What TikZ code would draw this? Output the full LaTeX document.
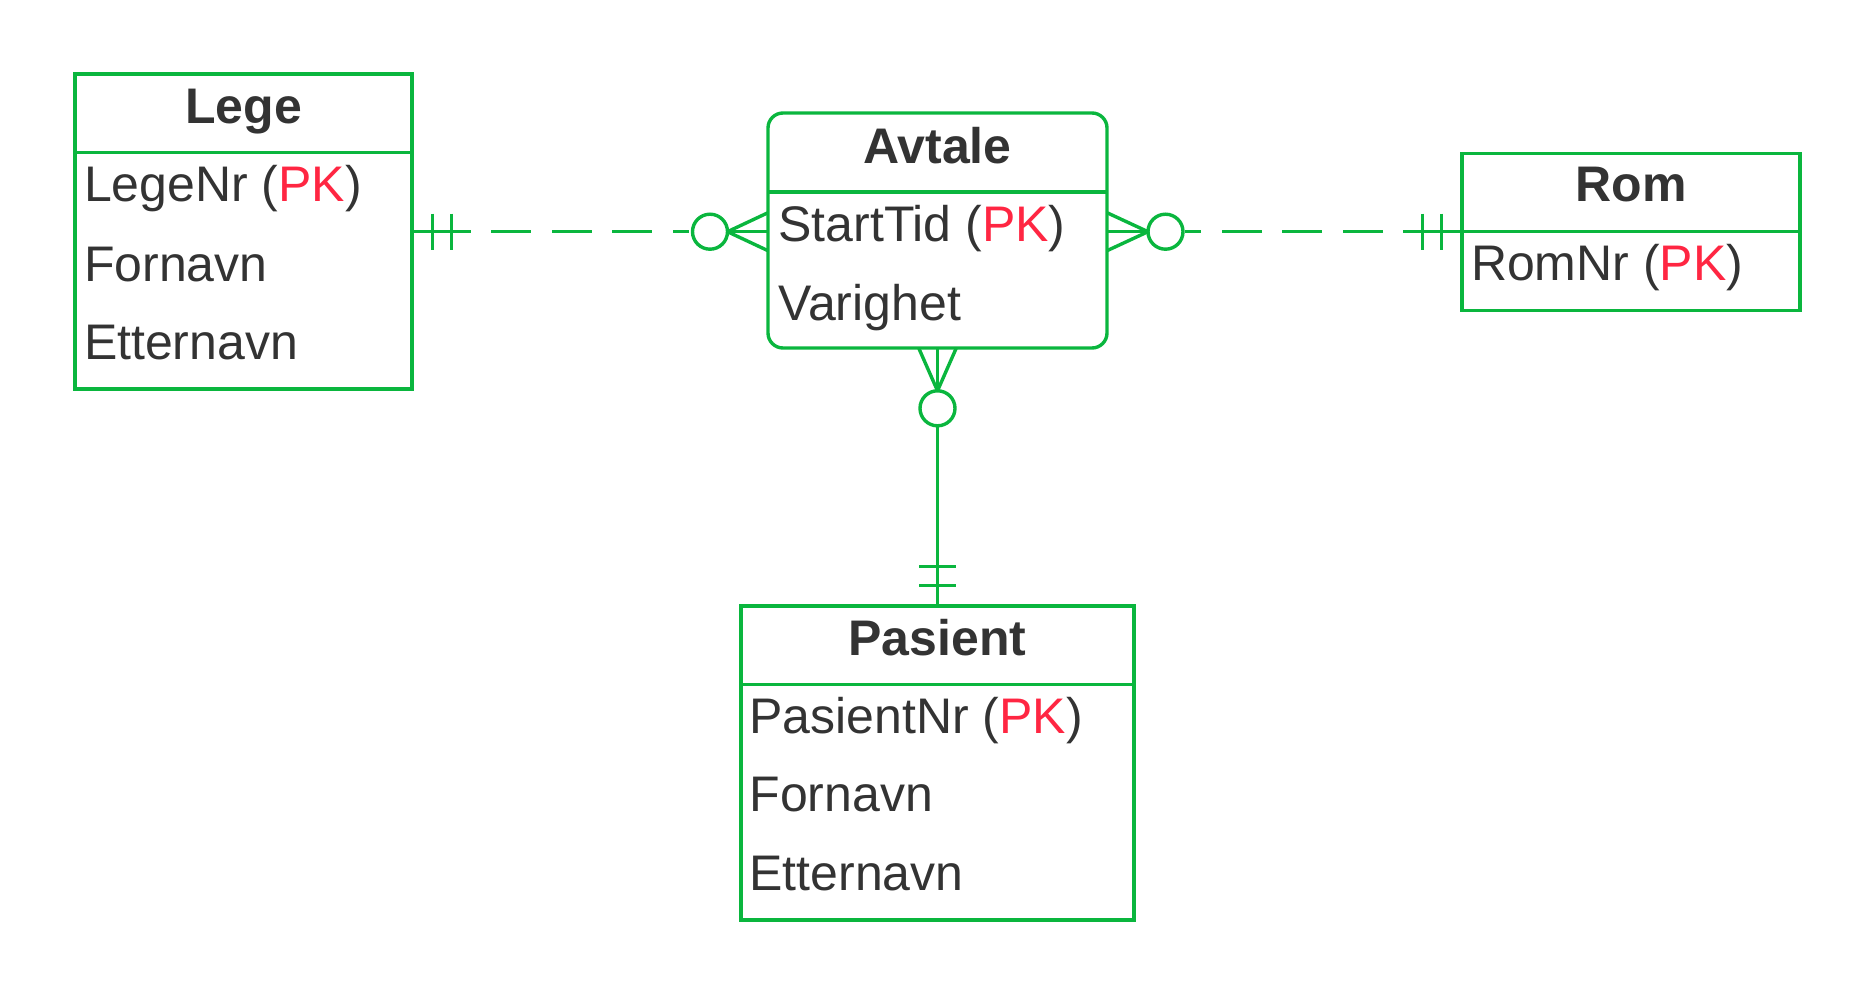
\documentclass[tikz,border=0pt]{standalone}
\usepackage{fontspec}
\setmainfont{Liberation Sans}
\usetikzlibrary{calc}
\definecolor{erg}{RGB}{10,182,62}
\definecolor{txt}{RGB}{51,51,51}
\definecolor{pkred}{RGB}{255,38,66}
\newcommand{\pkmark}{(\textcolor{pkred}{PK})}
\begin{document}
\begin{tikzpicture}[x=1pt,y=-1pt,
  every node/.style={inner sep=0pt, outer sep=0pt, text=txt, font=\fontsize{50}{59}\selectfont},
  entity/.style={draw=erg, line width=3.4pt, rectangle},
  hdr/.style={anchor=base, font=\fontsize{50}{59}\selectfont\bfseries},
  attr/.style={anchor=base west},
  sepline/.style={draw=erg, line width=3.4pt},
  rel/.style={draw=erg, line width=3.4pt},
  reldash/.style={rel, dash pattern=on 59pt off 20pt on 40pt off 21pt on 40pt off 20pt on 40pt off 21pt on 16pt},
  opt/.style={draw=erg, line width=3.4pt, circle, minimum size=35pt},
]
\useasboundingbox (0,0) rectangle (1875,998);

% Lege
\node[entity, minimum width=337pt, minimum height=315pt] (lege) at (243.5,231.5) {};
\draw[sepline] ($(lege.north west)+(0,78.5)$) -- ($(lege.north east)+(0,78.5)$);
\node[hdr] (legeh) at (243.5,123.3) {Lege};
\node[attr] (lege1) at (84,201.7) {LegeNr \pkmark};
\node[attr] (lege2) at (84,281) {Fornavn};
\node[attr] (lege3) at (84,359.5) {Etternavn};

% Avtale
\node[entity, rounded corners=15pt, minimum width=339pt, minimum height=235pt] (avtale) at (937.5,230.5) {};
\draw[sepline] ($(avtale.north west)+(0,79)$) -- ($(avtale.north east)+(0,79)$);
\node[hdr] (avtaleh) at (937.5,163.3) {Avtale};
\node[attr] (avtale1) at (778.5,241.7) {StartTid \pkmark};
\node[attr] (avtale2) at (778.5,320) {Varighet};

% Rom
\node[entity, minimum width=338pt, minimum height=157pt] (rom) at (1631,231.7) {};
\draw[sepline] ($(rom.north west)+(0,78)$) -- ($(rom.north east)+(0,78)$);
\node[hdr] (romh) at (1631,201.7) {Rom};
\node[attr] (rom1) at (1471,280) {RomNr \pkmark};

% Pasient
\node[entity, minimum width=393pt, minimum height=314pt] (pasient) at (937.5,763) {};
\draw[sepline] ($(pasient.north west)+(0,78.3)$) -- ($(pasient.north east)+(0,78.3)$);
\node[hdr] (pasienth) at (937.5,655) {Pasient};
\node[attr] (pasient1) at (749.5,733.3) {PasientNr \pkmark};
\node[attr] (pasient2) at (749.5,811.7) {Fornavn};
\node[attr] (pasient3) at (749.5,890) {Etternavn};

% optional circles
\node[opt] (c1) at (710,231.7) {};
\node[opt] (c2) at (1165.5,231.7) {};
\node[opt] (c3) at (937.5,408.3) {};

% Lege -- Avtale
\draw[reldash] (lege.east |- c1.west) -- (c1.west);
\draw[rel] ($(lege.east |- c1.west)+(20.7,-18)$) -- ++(0,36);
\draw[rel] ($(lege.east |- c1.west)+(39.7,-18)$) -- ++(0,36);
\draw[rel] (c1.east) -- (avtale.west |- c1.east);
\draw[rel] (c1.east) -- ($(avtale.west |- c1.east)+(0,-19)$);
\draw[rel] (c1.east) -- ($(avtale.west |- c1.east)+(0,19)$);

% Rom -- Avtale
\draw[reldash] (rom.west) -- (c2.east);
\draw[rel] ($(rom.west)+(-20.6,-18)$) -- ++(0,36);
\draw[rel] ($(rom.west)+(-39.6,-18)$) -- ++(0,36);
\draw[rel] (c2.west) -- (avtale.east |- c2.west);
\draw[rel] (c2.west) -- ($(avtale.east |- c2.west)+(0,-19)$);
\draw[rel] (c2.west) -- ($(avtale.east |- c2.west)+(0,19)$);

% Pasient -- Avtale
\draw[rel] (c3.south) -- (pasient.north);
\draw[rel] ($(pasient.north)+(-18.5,-20.7)$) -- ++(37,0);
\draw[rel] ($(pasient.north)+(-18.5,-39.7)$) -- ++(37,0);
\draw[rel] (c3.north) -- (avtale.south);
\draw[rel] (c3.north) -- ($(avtale.south)+(-18.8,0)$);
\draw[rel] (c3.north) -- ($(avtale.south)+(18.8,0)$);
\end{tikzpicture}
\end{document}
